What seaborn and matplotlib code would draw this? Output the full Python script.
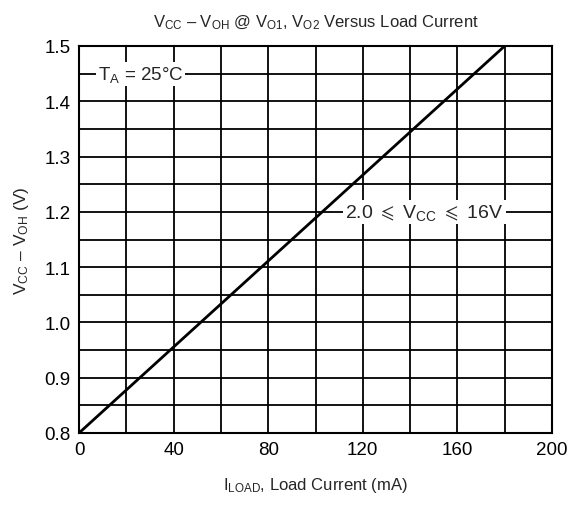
import numpy as np
import pandas as pd
import matplotlib
matplotlib.use("Agg")
import matplotlib.pyplot as plt
import seaborn as sns

# =========================
# Data
# =========================
load_current_ma = [0, 180]          # I_LOAD (mA)
vcc_minus_voh = [0.80, 1.50]        # V_CC - V_OH (V)

x_major = [0, 40, 80, 120, 160, 200]
x_minor = [20, 60, 100, 140, 180]
y_major = [0.8, 0.9, 1.0, 1.1, 1.2, 1.3, 1.4, 1.5]
y_minor = [0.85, 0.95, 1.05, 1.15, 1.25, 1.35, 1.45]

df = pd.DataFrame({"I_LOAD": load_current_ma, "dV": vcc_minus_voh})

# =========================
# Style
# =========================
sns.set_style("white")
plt.rcParams['font.family'] = ['Liberation Sans', 'DejaVu Sans']
plt.rcParams['mathtext.fontset'] = 'custom'
plt.rcParams['mathtext.rm'] = 'Liberation Sans'
plt.rcParams['mathtext.it'] = 'Liberation Sans:italic'
plt.rcParams['mathtext.fallback'] = 'stix'

fig = plt.figure(figsize=(5.81, 5.06), dpi=100)
ax = fig.add_axes([79 / 581, 72 / 506, 473 / 581, 387 / 506])

sns.lineplot(data=df, x="I_LOAD", y="dV", ax=ax, color="black", linewidth=2.0)

ax.set_xlim(0, 200)
ax.set_ylim(0.8, 1.5)
ax.set_xticks(x_major)
ax.set_xticks(x_minor, minor=True)
ax.set_yticks(y_major)
ax.set_yticks(y_minor, minor=True)
ax.set_yticklabels([f"{v:.1f}" for v in y_major])
ax.tick_params(which="both", length=0, labelsize=13.5, pad=6, colors="black")
ax.grid(which="both", color="black", linewidth=1.3)
for s in ax.spines.values():
    s.set_color("black")
    s.set_linewidth(1.5)

ax.set_title(r"V$\mathregular{_{CC}}$ – V$\mathregular{_{OH}}$ @ V$\mathregular{_{O1}}$, "
             r"V$\mathregular{_{O2}}$ Versus Load Current", fontsize=12, pad=14)
ax.set_xlabel(r"I$\mathregular{_{LOAD}}$, Load Current (mA)", fontsize=12, labelpad=12)
ax.set_ylabel(r"V$\mathregular{_{CC}}$ – V$\mathregular{_{OH}}$ (V)", fontsize=12.5, labelpad=10)

box = dict(facecolor="white", edgecolor="none", pad=1.5)
ax.text(8.0, 1.45, r"T$\mathregular{_A}$ = 25°C", fontsize=13.5, ha="left", va="center",
        bbox=box, zorder=5)
ax.text(146, 1.2, r"2.0 $\leqslant$ V$\mathregular{_{CC}}$ $\leqslant$ 16V", fontsize=14,
        ha="center", va="center", bbox=box, zorder=5)

plt.savefig("out.png", dpi=100)
plt.close()
